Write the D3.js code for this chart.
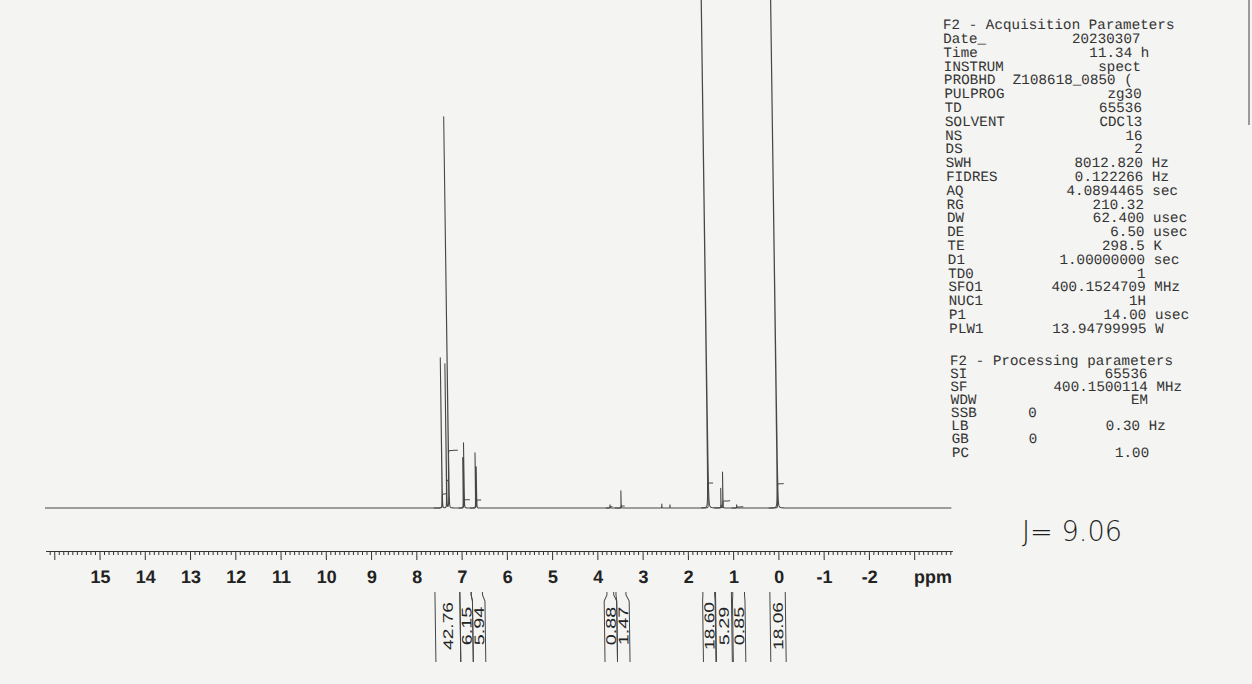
<!DOCTYPE html>
<html><head><meta charset="utf-8">
<script src="https://cdn.jsdelivr.net/npm/d3@7"></script>
<style>
html,body{margin:0;padding:0;background:#f4f4f2;}
svg{display:block;}
</style></head><body>
<svg id="c" width="1252" height="684"></svg>
<script>
// ---------- data ----------
const peakPpm    = [7.41, 7.31, 7.26, 6.945, 6.923, 6.672, 6.650, 3.705, 3.46, 2.56, 2.38, 1.533, 1.253, 1.209, 0.906, 0.00];
const peakHeight = [38.4, 36.8, 100,  12.8,  16.6,  14.1,  10.5,  0.8,   4.4,  1.0,  0.8,  400,   5.0,   9.2,   0.8,   400];
const peakWidth  = [0.003,0.003,0.0025,0.003,0.003,0.003,0.003,0.006,0.003,0.004,0.004,0.0025,0.003,0.003,0.006,0.0022];

const integralFrom  = [7.60, 7.05, 6.80, 3.80, 3.60, 1.68, 1.40, 1.02, 0.20];
const integralTo    = [7.05, 6.80, 6.55, 3.65, 3.38, 1.42, 1.05, 0.76, -0.14];
const integralValue = ["42.76","6.15","5.94","0.88","1.47","18.60","5.29","0.85","18.06"];

const majorTicks = d3.range(16, -4, -1);
const tickLabels = [15,14,13,12,11,10,9,8,7,6,5,4,3,2,1,0,-1,-2];
const axisUnit = "ppm";

const acqTitle  = "F2 - Acquisition Parameters";
const acqLabels = ["Date_","Time","INSTRUM","PROBHD","PULPROG","TD","SOLVENT","NS","DS","SWH","FIDRES","AQ","RG","DW","DE","TE","D1","TD0","SFO1","NUC1","P1","PLW1"];
const acqValues = ["20230307","11.34","spect","Z108618_0850 (","zg30","65536","CDCl3","16","2","8012.820","0.122266","4.0894465","210.32","62.400","6.50","298.5","1.00000000","1","400.1524709","1H","14.00","13.94799995"];
const acqUnits  = ["","h","","","","","","","","Hz","Hz","sec","","usec","usec","K","sec","","MHz","","usec","W"];
const procTitle  = "F2 - Processing parameters";
const procLabels = ["SI","SF","WDW","SSB","LB","GB","PC"];
const procValues = ["65536","400.1500114","EM","0","0.30","0","1.00"];
const procUnits  = ["","MHz","","","Hz","",""];
const note = "J= 9.06";

// ---------- drawing ----------
const svg = d3.select("#c");
const BASE = 508, AXY = 551;
const xs = d3.scaleLinear().domain([16.19, -3.84]).range([45, 951.5]);
const ys = d3.scaleLinear().domain([0, 100]).range([BASE, 117]);

const chart = svg.append("g").attr("transform", `translate(0,${BASE}) skewX(0.8) translate(0,${-BASE})`);

function intensity(p){
  let s = 0;
  for (let i=0;i<peakPpm.length;i++){
    const d = 2*(p-peakPpm[i])/peakWidth[i];
    s += peakHeight[i]/(1+d*d);
  }
  return s;
}
let grid = d3.range(16.19, -3.84, -0.004);
const offs = [0,0.0004,0.0008,0.0015,0.0025,0.004,0.007,0.012];
peakPpm.forEach(c => offs.forEach(o => { grid.push(c+o); if (o) grid.push(c-o); }));
grid = grid.filter(p => p<=16.19 && p>=-3.84).sort((a,b)=>b-a);
const spec = grid.map(p => ({p, v:intensity(p)}));

chart.append("path")
  .attr("d", d3.line().x(d=>xs(d.p)).y(d=>ys(d.v))(spec))
  .attr("fill","none").attr("stroke","#474747").attr("stroke-width",1.05)
  .attr("stroke-linejoin","round");

// integral curves (analytic cumulative of the Lorentzians)
const PX_PER_UNIT = 1.35;
function cum(a, p){
  let s=0;
  for (let i=0;i<peakPpm.length;i++){
    const w=peakWidth[i];
    s += peakHeight[i]*(w/2)*(Math.atan(2*(a-peakPpm[i])/w) - Math.atan(2*(p-peakPpm[i])/w));
  }
  return s;
}
integralFrom.forEach((a,k) => {
  const b = integralTo[k];
  const total = cum(a,b);
  let pts = d3.range(a, b, -0.0005); pts.push(b);
  const hpx = (+integralValue[k])*PX_PER_UNIT;
  const line = pts.map(p => [xs(p), BASE - cum(a,p)/total*hpx]);
  chart.append("path").attr("d", d3.line()(line))
    .attr("fill","none").attr("stroke","#474747").attr("stroke-width",1);
});

// axis: minor + major ticks
const minorVals = d3.range(161, -39, -1).map(d=>d/10).filter(d=>Math.abs(d-Math.round(d))>1e-6);
const minorAxis = d3.axisBottom(xs).tickValues(minorVals).tickSize(4).tickSizeOuter(0).tickFormat("");
const majorAxis = d3.axisBottom(xs).tickValues(majorTicks).tickSize(9).tickSizeOuter(0)
  .tickFormat(d => tickLabels.includes(d) ? String(d) : "");
const gMin = chart.append("g").attr("transform",`translate(0,${AXY})`).call(minorAxis);
const gMaj = chart.append("g").attr("transform",`translate(0,${AXY})`).call(majorAxis);
[gMin,gMaj].forEach(g=>{
  g.select(".domain").attr("stroke","#333").attr("stroke-width",1.2);
  g.selectAll(".tick line").attr("stroke","#333").attr("stroke-width",1);
});
gMaj.selectAll(".tick text").attr("y",32).attr("dy",0)
  .attr("font-family","Liberation Sans, Arial, sans-serif").attr("font-weight","bold")
  .attr("font-size",18).attr("fill","#222");
chart.append("text").attr("x",913).attr("y",AXY+32).text(axisUnit)
  .attr("font-family","Liberation Sans, Arial, sans-serif").attr("font-weight","bold")
  .attr("font-size",18).attr("fill","#222");

// integral labels with brackets
const gLab = chart.append("g").attr("opacity",0.99);
let prevR = -Infinity;
integralFrom.forEach((a,k)=>{
  const xl = xs(a), xr = xs(integralTo[k]);
  const w = Math.max(12.5, xr-xl);
  let bl = (xl+xr)/2 - w/2;
  if (bl < prevR) bl = prevR;
  const br = bl + w; prevR = br;
  const path = `M${xl},592 L${xl},595 L${bl},601 L${bl},662 M${xr},592 L${xr},595 L${br},601 L${br},662`;
  gLab.append("path").attr("d",path).attr("fill","none").attr("stroke","#444").attr("stroke-width",1);
  const cx = (bl+br)/2, cy = 626;
  const s = integralValue[k];
  gLab.append("text").attr("transform",`translate(${cx},${cy}) rotate(-90)`)
    .attr("text-anchor","middle").attr("dominant-baseline","central")
    .attr("font-family","Liberation Sans, Arial, sans-serif").attr("font-size",14)
    .attr("textLength", s.length*9.6).attr("lengthAdjust","spacingAndGlyphs")
    .attr("fill","#222").text(s);
});

// parameter text block
const NB = "\u00a0";
const txt = svg.append("g").attr("transform", `translate(0,${BASE}) skewX(1.2) translate(0,${-BASE})`)
  .attr("font-family","Liberation Mono, Courier New, monospace").attr("font-size",14.3).attr("fill","#333");
function row(label, value, unit, endCol){
  const pad = Math.max(label.length+1, endCol - value.length);
  return (label.padEnd(pad, " ") + value + (unit ? " " + unit : "")).replace(/ /g, NB);
}
const endColFor = (lab) => ({"Time":22,"PROBHD":22,"LB":22,"SSB":10,"GB":10}[lab] || 23);
const X0 = 953;
txt.append("text").attr("x",X0).attr("y",24+5).text(acqTitle.replace(/ /g,NB));
acqLabels.forEach((lab,i)=>{
  txt.append("text").attr("x",X0).attr("y",38+i*13.8+5)
    .text(row(lab, acqValues[i], acqUnits[i], endColFor(lab)));
});
txt.append("text").attr("x",X0).attr("y",360+5).text(procTitle.replace(/ /g,NB));
procLabels.forEach((lab,i)=>{
  txt.append("text").attr("x",X0).attr("y",373+i*13.1+5)
    .text(row(lab, procValues[i], procUnits[i], endColFor(lab)));
});

// handwritten note
svg.append("text").attr("x",1022).attr("y",541).text(note)
  .attr("font-family","DejaVu Sans, sans-serif").attr("font-weight",200).attr("font-size",28)
  .attr("textLength",100).attr("lengthAdjust","spacingAndGlyphs").attr("fill","#1e1e1e");

// paper edge shadow at right
svg.append("line").attr("x1",1249).attr("x2",1249).attr("y1",0).attr("y2",125)
  .attr("stroke","#9a9a9a").attr("stroke-width",2);
</script>
</body></html>
